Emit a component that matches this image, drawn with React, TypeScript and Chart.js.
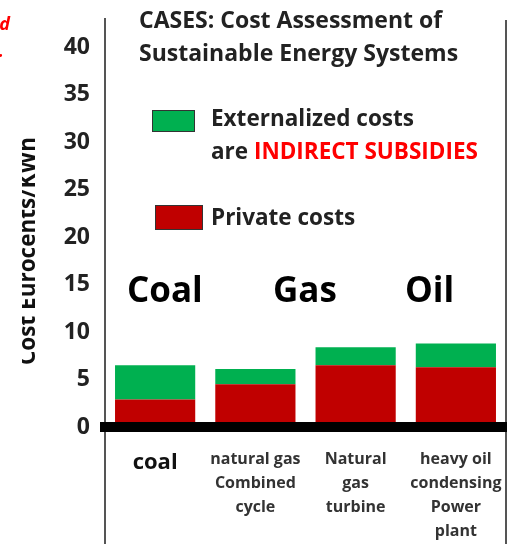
import React, { useEffect, useRef } from "react";
import { Chart, registerables } from "chart.js";

Chart.register(...registerables);

const categories: string[][] = [
  ["coal"],
  ["natural gas", "Combined", "cycle"],
  ["Natural", "gas", "turbine"],
  ["heavy oil", "condensing", "Power", "plant"],
];
const privateCosts: number[] = [2.9, 4.5, 6.5, 6.3];
const externalCosts: number[] = [3.6, 1.6, 1.9, 2.5];
const yMin = 0;
const yMax = 40;
const yStep = 5;
const titleLines: string[] = ["CASES: Cost Assessment of", "Sustainable Energy Systems"];
const yAxisTitle = "Cost Eurocents/KWh";
const groupLabels: string[] = ["Coal", "Gas", "Oil"];
const legendExternal: string[] = ["Externalized costs", "are ", "INDIRECT SUBSIDIES"];
const legendPrivate = "Private costs";

const GREEN = "#00B050";
const RED = "#C00000";
const FONT = "'Open Sans', 'Noto Sans', sans-serif";

const decorPlugin = {
  id: "decor",
  beforeDraw(chart: any) {
    const ctx = chart.ctx as CanvasRenderingContext2D;
    const { left, right } = chart.chartArea;
    const H = chart.height;
    ctx.save();
    ctx.strokeStyle = "#555";
    ctx.lineWidth = 2;
    ctx.beginPath();
    ctx.moveTo(left, 18);
    ctx.lineTo(left, H);
    ctx.moveTo(right, 20);
    ctx.lineTo(right, H);
    ctx.stroke();
    ctx.restore();
  },
  afterDraw(chart: any) {
    const ctx = chart.ctx as CanvasRenderingContext2D;
    ctx.save();
    ctx.textBaseline = "middle";
    ctx.textAlign = "left";
    // title
    ctx.fillStyle = "#222";
    ctx.font = `bold 23px ${FONT}`;
    ctx.fillText(titleLines[0], 139, 21);
    ctx.fillText(titleLines[1], 139, 54);
    // legend
    ctx.fillStyle = GREEN;
    ctx.fillRect(152, 110, 42, 21);
    ctx.strokeStyle = "#333";
    ctx.lineWidth = 1;
    ctx.strokeRect(152.5, 110.5, 42, 21);
    ctx.fillStyle = RED;
    ctx.fillRect(155, 205, 47, 24);
    ctx.strokeRect(155.5, 205.5, 47, 24);
    ctx.font = `bold 22.5px ${FONT}`;
    ctx.fillStyle = "#222";
    ctx.fillText(legendExternal[0], 211, 120);
    ctx.fillText(legendExternal[1], 211, 153);
    const w = ctx.measureText(legendExternal[1]).width;
    ctx.fillStyle = "#FF0000";
    ctx.fillText(legendExternal[2], 211 + w, 153);
    ctx.fillStyle = "#222";
    ctx.fillText(legendPrivate, 211, 219);
    // group labels
    ctx.fillStyle = "#000";
    ctx.font = `bold 35px ${FONT}`;
    ctx.fillText(groupLabels[0], 127, 292);
    ctx.fillText(groupLabels[1], 273, 292);
    ctx.fillText(groupLabels[2], 405, 292);
    // y axis title (clipped like the source)
    ctx.save();
    ctx.beginPath();
    ctx.rect(22, 60, 80, 340);
    ctx.clip();
    ctx.translate(35, 251);
    ctx.rotate(-Math.PI / 2);
    ctx.textAlign = "center";
    ctx.textBaseline = "alphabetic";
    ctx.font = `bold 22.5px ${FONT}`;
    ctx.fillStyle = "#111";
    ctx.fillText(yAxisTitle, 0, 0);
    ctx.restore();
    // red partial text at top-left edge
    ctx.fillStyle = "#FF0000";
    ctx.font = `italic bold 18px ${FONT}`;
    ctx.textAlign = "right";
    ctx.fillText("ed", 10, 25);
    ctx.fillText("t.", 4, 52);
    ctx.restore();
  },
};

export default function App() {
  const ref = useRef<HTMLCanvasElement>(null);
  useEffect(() => {
    if (!ref.current) return;
    const chart = new Chart(ref.current, {
      type: "bar",
      data: {
        labels: categories,
        datasets: [
          {
            label: "Private costs",
            data: privateCosts,
            backgroundColor: RED,
            borderWidth: 0,
            categoryPercentage: 1,
            barPercentage: 0.8,
          },
          {
            label: "Externalized costs",
            data: externalCosts,
            backgroundColor: GREEN,
            borderWidth: 0,
            categoryPercentage: 1,
            barPercentage: 0.8,
          },
        ],
      },
      options: {
        responsive: false,
        animation: false,
        layout: { padding: { left: 0, right: 11, top: 47, bottom: 0 } },
        plugins: { legend: { display: false }, tooltip: { enabled: false }, title: { display: false } },
        scales: {
          x: {
            stacked: true,
            grid: { display: false },
            border: { display: true, color: "#000", width: 10, z: 1 },
            afterFit: (s: any) => {
              s.height = 117;
            },
            ticks: {
              maxRotation: 0,
              autoSkip: false,
              padding: 12,
              color: (c: any) => (c.index === 0 ? "#111" : "#333"),
              font: (c: any) =>
                c.index === 0
                  ? { family: FONT, size: 22, weight: "bold", lineHeight: 1.4 }
                  : { family: FONT, size: 16, weight: "bold", lineHeight: 1.5 },
            },
          },
          y: {
            stacked: true,
            min: yMin,
            max: yMax,
            grid: { display: false },
            border: { display: false },
            afterFit: (s: any) => {
              s.width = 105;
            },
            ticks: {
              stepSize: yStep,
              padding: 7,
              color: "#222",
              font: { family: FONT, size: 23, weight: "bold" },
            },
          },
        },
      },
      plugins: [decorPlugin],
    });
    return () => chart.destroy();
  }, []);
  return (
    <div style={{ position: "absolute", left: 0, top: 0, width: 517, height: 544, background: "#fff" }}>
      <canvas ref={ref} width={517} height={544} />
    </div>
  );
}
